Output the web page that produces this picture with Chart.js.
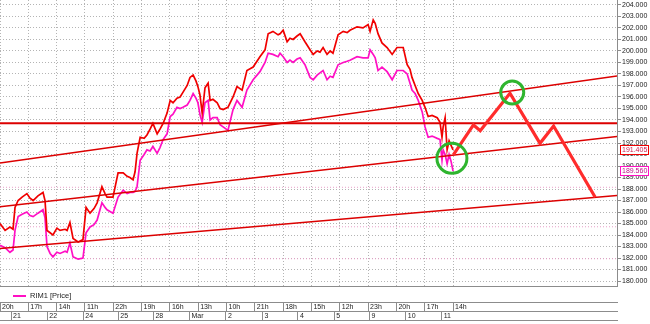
<!DOCTYPE html>
<html><head><meta charset="utf-8">
<script src="https://cdn.jsdelivr.net/npm/chart.js@4"></script>
<style>html,body{margin:0;padding:0;background:#fff;} canvas{display:block;}</style>
</head><body>
<canvas id="c" width="650" height="324"></canvas>
<script>
// ---- data (x in session-tick units, y in price) ----
const timeIdx = [0,0.18,0.35,0.46,0.53,0.64,0.78,0.95,1.06,1.17,
1.34,1.52,1.59,1.66,1.77,1.87,2.01,2.12,2.30,2.37,
2.47,2.58,2.76,2.93,3.04,3.18,3.32,3.43,3.60,3.71,
3.78,3.99,4.17,4.35,4.49,4.59,4.70,4.77,4.84,4.95,
5.09,5.19,5.30,5.40,5.55,5.65,5.76,5.90,6.01,6.11,
6.25,6.36,6.46,6.61,6.71,6.82,6.92,6.99,7.06,7.14,
7.24,7.35,7.42,7.52,7.67,7.77,7.88,8.05,8.23,8.37,
8.55,8.72,8.94,9.18,9.36,9.47,9.64,9.82,9.89,10.00,
10.14,10.24,10.35,10.49,10.60,10.77,10.95,11.06,11.20,11.30,
11.41,11.55,11.66,11.76,11.94,12.12,12.26,12.36,12.61,12.82,
13.00,13.07,13.18,13.25,13.35,13.49,13.67,13.85,14.02,14.24,
14.38,14.48,14.55,14.66,14.77,14.91,15.01,15.12,15.26,15.44,
15.54,15.61,15.65,15.72,15.79,15.86,15.93,16.00];
const rimRed = [185.0,184.4,184.7,184.5,186.4,187.0,187.3,187.6,187.2,187.0,
187.4,187.7,187.0,184.4,184.2,184.0,184.6,184.4,184.5,184.4,
185.1,183.7,183.4,183.6,186.4,185.9,186.3,186.8,188.2,187.6,
187.3,187.3,189.4,189.4,189.1,189.0,188.8,189.5,191.1,192.5,
192.4,192.7,193.2,193.7,192.8,193.2,193.7,194.6,195.7,195.5,
195.9,196.0,196.4,197.0,197.7,197.9,197.4,196.9,196.2,194.6,
196.8,197.2,195.7,195.8,195.5,195.0,194.9,195.1,196.0,196.9,
196.6,198.3,198.6,199.5,200.1,201.5,201.7,201.4,201.5,201.8,
200.8,201.1,201.0,201.3,201.5,200.8,200.1,199.7,200.0,199.9,
200.3,199.7,200.0,199.8,201.4,201.7,201.6,201.8,202.1,202.0,
202.3,201.7,202.7,202.4,201.5,200.7,200.3,199.7,200.3,200.3,
198.8,198.4,197.7,197.0,196.3,195.7,195.1,194.3,194.4,194.2,
193.8,192.5,193.4,194.2,191.4,192.2,191.8,191.405];
const rimMagenta = [183.1,182.9,182.5,182.7,184.4,185.6,185.8,186.0,185.7,185.6,
185.9,186.2,185.5,183.0,182.4,182.1,182.5,182.4,182.6,182.5,
183.3,182.1,181.9,182.0,184.2,184.7,184.9,185.3,186.8,186.4,
186.2,185.9,187.3,187.9,187.6,187.7,187.7,187.8,188.2,190.5,
191.0,191.4,191.3,191.7,191.1,191.6,192.3,192.8,194.3,194.5,
195.1,195.0,195.1,195.3,195.7,196.3,195.9,195.5,194.5,193.8,
195.5,195.7,194.0,194.2,194.2,193.6,193.4,193.1,194.9,195.7,
195.1,196.6,197.5,198.2,199.0,199.8,199.7,199.5,199.8,199.5,
199.0,199.2,199.0,199.3,199.4,198.8,197.7,197.5,197.9,198.1,
198.3,197.5,197.8,197.7,198.8,199.0,199.1,199.2,199.5,199.4,
199.4,200.1,199.7,199.4,198.3,198.6,198.2,197.5,198.3,198.3,
198.0,197.2,196.6,196.3,195.7,194.7,193.4,192.5,192.6,192.4,
192.3,190.5,191.4,191.0,190.2,191.0,190.4,189.56];
const sessionTicks = [0,1,2,3,4,5,6,7,8,9,10,11,12,13,14,15,16];
const sessionLabels = ['20h','17h','14h','11h','22h','19h','16h','13h','10h','21h','18h','15h','12h','23h','20h','17h','14h'];
const dayTicks = [0.39,1.67,2.94,4.18,5.42,6.69,7.98,9.27,10.52,11.80,13.05,14.33,15.60];
const dayLabels = ['21','22','24','25','28','Mar','2','3','4','5','9','10','11'];
const priceTicks = [180,181,182,183,184,185,186,187,188,189,190,191,192,193,194,195,196,197,198,199,200,201,202,203,204];
const xRange = [0, 21.79];
const yRange = [179.57, 204.43];
const channelX = [0, 21.79];
const channelUpper = [190.26, 197.83];
const channelMiddle = [186.46, 192.57];
const channelLower = [182.84, 187.43];
const resistanceLevel = 193.71;
const projX = [16.01,16.72,16.96,18.01,19.07,19.55,21.02];
const projY = [190.96,193.57,193.07,196.32,191.97,193.48,187.28];
const markX = [15.96, 18.09];
const markY = [190.67, 196.39];
const markSize = [15, 11.5];
const alertLevels = [188.15, 184.72, 181.94];
const lastRed = 191.405, lastMagenta = 189.56;
const seriesName = 'RIM1 [Price]';

const FONT = "'Liberation Sans', Arial, sans-serif";
const RED = '#f00000', MAG = '#ff10c4';
const pts = (xs, ys) => xs.map((x, i) => ({x, y: ys[i]}));
const flat = (v) => [{x: xRange[0], y: v}, {x: xRange[1], y: v}];

const datasets = [
  {label: 'marks', data: pts(markX, markY), showLine: false, pointRadius: markSize, pointHoverRadius: markSize,
   pointBorderColor: '#2fb52f', pointBackgroundColor: 'rgba(0,0,0,0)', pointBorderWidth: 3, order: 0},
  {label: 'projection', data: pts(projX, projY), borderColor: '#ff2c2c', borderWidth: 3.2, pointRadius: 0, order: 1},
  {label: 'upper', data: pts(channelX, channelUpper), borderColor: '#dc0000', borderWidth: 1.5, pointRadius: 0, order: 2},
  {label: 'middle', data: pts(channelX, channelMiddle), borderColor: '#dc0000', borderWidth: 1.5, pointRadius: 0, order: 2},
  {label: 'lower', data: pts(channelX, channelLower), borderColor: '#dc0000', borderWidth: 1.5, pointRadius: 0, order: 2},
  {label: 'resistance', data: flat(resistanceLevel), borderColor: '#dc0000', borderWidth: 2, pointRadius: 0, order: 2},
  {label: seriesName, data: pts(timeIdx, rimRed), borderColor: RED, borderWidth: 1.7, pointRadius: 0, order: 3},
  {label: 'RIM1 b', data: pts(timeIdx, rimMagenta), borderColor: MAG, borderWidth: 1.7, pointRadius: 0, order: 4},
];
alertLevels.forEach(v => datasets.push({label: 'alert', data: flat(v), borderColor: '#e8a0c8', borderWidth: 1, borderDash: [1, 2], pointRadius: 0, order: 6}));

const axisFont = {family: FONT, size: 7};
const xBase = (ticks, labels, chartGrid, weight, h) => ({
  type: 'linear', position: 'bottom', min: xRange[0], max: xRange[1], weight,
  afterBuildTicks: s => { s.ticks = ticks.map(v => ({value: v})); },
  afterFit: s => { s.height = h; s.paddingLeft = 0; s.paddingRight = 0; },
  ticks: {display: labels !== null, autoSkip: false, maxRotation: 0, minRotation: 0, align: 'start', labelOffset: 2,
          padding: -8.6, font: axisFont, color: '#222', callback: (v, i) => labels ? labels[i] : ''},
  grid: {display: true, drawOnChartArea: chartGrid, drawTicks: labels !== null, tickLength: 9, color: '#b4b4b4', tickColor: '#8c8c8c', tickWidth: 1, tickBorderDash: []},
  border: {display: true, color: '#8c8c8c', width: 1, dash: [1, 2]}
});

const overlay = {
  id: 'overlay',
  afterDraw(chart) {
    const ctx = chart.ctx, y = chart.scales.y, xs = chart.scales.xs;
    const ly = xs.top + 10;
    ctx.save();
    ctx.strokeStyle = MAG; ctx.lineWidth = 2;
    ctx.beginPath(); ctx.moveTo(13, ly); ctx.lineTo(26, ly); ctx.stroke();
    ctx.fillStyle = '#222'; ctx.font = "7.5px " + FONT; ctx.textBaseline = 'middle'; ctx.textAlign = 'left';
    ctx.fillText(seriesName, 30, ly);
    [[lastRed, RED, '#d02050'], [lastMagenta, MAG, '#c0108a']].forEach(([v, c, t]) => {
      const py = Math.round(y.getPixelForValue(v));
      ctx.fillStyle = '#fff'; ctx.fillRect(y.left + 3, py - 5, 29, 10);
      ctx.strokeStyle = c; ctx.lineWidth = 1; ctx.strokeRect(y.left + 3.5, py - 4.5, 28, 9);
      ctx.fillStyle = t; ctx.font = "7px " + FONT;
      ctx.fillText(v.toFixed(3), y.left + 5, py + 0.5);
    });
    ctx.restore();
  }
};

new Chart(document.getElementById('c'), {
  type: 'line',
  data: {datasets},
  options: {
    responsive: false, animation: false, devicePixelRatio: 1,
    layout: {autoPadding: false, padding: {left: 0, right: 0, top: 0, bottom: 3}},
    plugins: {legend: {display: false}, tooltip: {enabled: false}},
    elements: {line: {tension: 0}},
    scales: {
      x: xBase(sessionTicks, sessionLabels, true, 1, 9),
      x2: xBase(dayTicks, dayLabels, false, 2, 9),
      xs: xBase([], null, false, 0, 16),
      x3: xBase([], null, false, 3, 1),
      y: {
        type: 'linear', position: 'right', min: yRange[0], max: yRange[1],
        afterBuildTicks: s => { s.ticks = priceTicks.map(v => ({value: v})); },
        afterFit: s => { s.width = 33; s.paddingTop = 0; s.paddingBottom = 0; },
        ticks: {font: axisFont, color: '#222', padding: 1, autoSkip: false, callback: v => Number(v).toFixed(3)},
        grid: {color: '#b4b4b4', tickColor: '#8c8c8c', tickLength: 4, tickBorderDash: []},
        border: {display: true, color: '#8c8c8c', width: 1, dash: [1, 2]}
      }
    }
  },
  plugins: [overlay]
});
</script>
</body></html>
